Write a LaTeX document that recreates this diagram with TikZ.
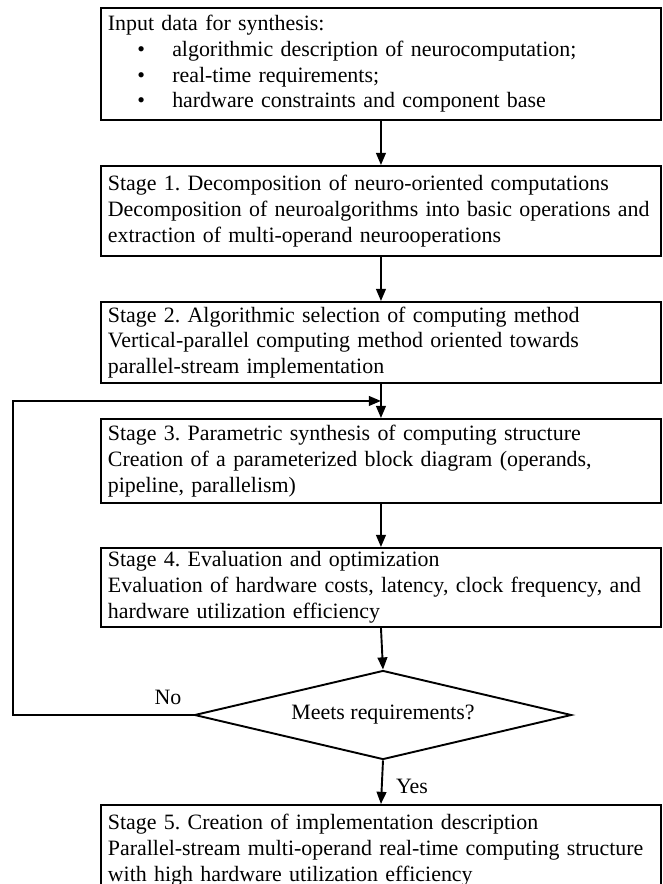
\documentclass[tikz,border=0pt]{standalone}
\usepackage{fontspec}
\setmainfont{Liberation Serif}
\usetikzlibrary{arrows.meta,shapes.geometric,calc}
\frenchspacing
\newlength\pxu
\setlength\pxu{0.575pt}
\newcommand{\bul}[1]{\makebox[37pt][l]{\hspace*{17pt}\textbullet}#1}
\tikzset{stagebox/.style={draw,line width=1.1pt,rectangle,anchor=north west,
   align=left,text width=314pt,inner xsep=4pt,inner ysep=2pt,
   font=\fontsize{12.6}{14.8}\selectfont},
 decide/.style={draw,line width=1.1pt,diamond,aspect=4.24,inner sep=0pt,
   minimum width=377\pxu,minimum height=89\pxu,
   font=\fontsize{12.6}{14.8}\selectfont},
 arr/.style={line width=1.1pt,-{Triangle[length=7pt,width=5.6pt]}},
 lbl/.style={font=\fontsize{12.6}{14.8}\selectfont,inner sep=1pt},
 }

\begin{document}
\begin{tikzpicture}[x=\pxu,y=-\pxu]
    \useasboundingbox (0,0) rectangle (663,884);
    \clip (0,0) rectangle (663,884);
    \node[stagebox,minimum height=112\pxu] (input) at (100,7) {Input data for synthesis:\\
        \bul{algorithmic description of neurocomputation;}\\
        \bul{real-time requirements;}\\
        \bul{hardware constraints and component base}};
    \node[stagebox,minimum height=90\pxu] (st1) at (100,165) {Stage 1. Decomposition of neuro-oriented computations\\
        Decomposition of neuroalgorithms into basic operations and\\
        extraction of multi-operand neurooperations};
    \node[stagebox,minimum height=81\pxu] (st2) at (100,301) {Stage 2. Algorithmic selection of computing method\\
        Vertical-parallel computing method oriented towards\\
        parallel-stream implementation};
    \node[stagebox,minimum height=84\pxu] (st3) at (100,418) {Stage 3. Parametric synthesis of computing structure\\
        Creation of a parameterized block diagram (operands,\\
        pipeline, parallelism)};
    \node[stagebox,minimum height=79\pxu] (st4) at (100,547) {Stage 4. Evaluation and optimization\\
        Evaluation of hardware costs, latency, clock frequency, and\\
        hardware utilization efficiency};
    \node[decide] (check) at (383,715) {Meets requirements?};
    \node[stagebox,minimum height=90\pxu] (st5) at (100,804) {Stage 5. Creation of implementation description\\
        Parallel-stream multi-operand real-time computing structure\\
        with high hardware utilization efficiency};

    \coordinate (join) at ($(st2.south)!0.5!(st3.north)$);
    \draw[arr] (input.south) -- (st1.north);
    \draw[arr] (st1.south) -- (st2.north);
    \draw[line width=1.1pt] (st2.south) -- (join);
    \draw[arr] (join) -- (st3.north);
    \draw[arr] (st3.south) -- (st4.north);
    \draw[arr] (st4.south) -- (check.north);
    \draw[arr] (check.south) -- (st5.north);
    \draw[arr] (check.west) -- ++(-181,0) |- (join);

    \node[lbl] (no) at (168,697) {No};
    \node[lbl] (yes) at (412,786) {Yes};
\end{tikzpicture}
\end{document}
